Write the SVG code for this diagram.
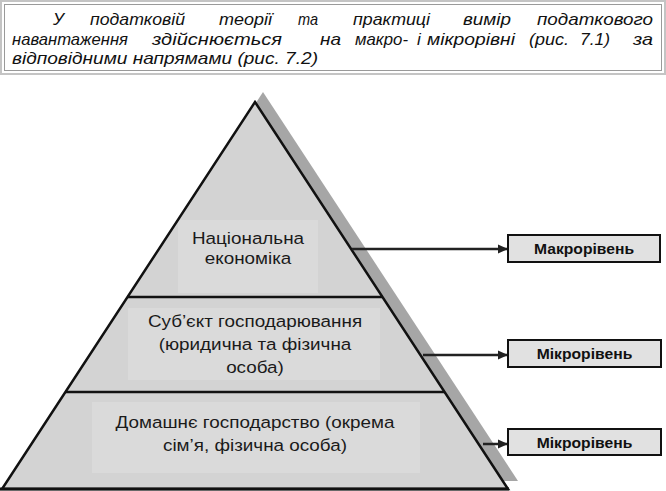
<svg xmlns="http://www.w3.org/2000/svg" width="666" height="491" viewBox="0 0 666 491">
  <defs>
    <style>
      .hdr { font-family: "Liberation Sans", Arial, sans-serif; font-size: 17px; font-style: italic; fill: #111; }
      .lbl { font-family: "Liberation Sans", Arial, sans-serif; font-size: 17px; fill: #1a1a1a; text-anchor: middle; }
      .lvl { font-family: "Liberation Sans", Arial, sans-serif; font-size: 14px; font-weight: bold; fill: #111; text-anchor: middle; }
      .tier-line { stroke: #111; stroke-width: 2.5; fill: none; }
      .lblbg { fill: #dadada; }
      .box { fill: #e1e1e1; stroke: #111; stroke-width: 2; }
      .conn { stroke: #222; stroke-width: 2.5; fill: none; }
    </style>
    <marker id="arr" markerUnits="userSpaceOnUse" markerWidth="11" markerHeight="10" refX="10" refY="5" orient="auto">
      <path d="M0,0.5 L10,5 L0,9.5 Z" fill="#222"/>
    </marker>
  </defs>

  <rect width="666" height="491" fill="#ffffff"/>

  <!-- header -->
  <g id="header">
    <rect x="1" y="1" width="664" height="73" fill="none" stroke="#c4c4c4" stroke-width="2"/>
    <rect x="4.5" y="4.5" width="657" height="66" fill="#ffffff" stroke="#9a9a9a" stroke-width="1"/>
    <text class="hdr" y="25">
      <tspan x="53">У</tspan><tspan x="90" textLength="95" lengthAdjust="spacingAndGlyphs">податковій</tspan><tspan x="219" textLength="53" lengthAdjust="spacingAndGlyphs">теорії</tspan><tspan x="298" textLength="20" lengthAdjust="spacingAndGlyphs">та</tspan><tspan x="353" textLength="77" lengthAdjust="spacingAndGlyphs">практиці</tspan><tspan x="463" textLength="48" lengthAdjust="spacingAndGlyphs">вимір</tspan><tspan x="537" textLength="116" lengthAdjust="spacingAndGlyphs">податкового</tspan>
    </text>
    <text class="hdr" y="45">
      <tspan x="12" textLength="116" lengthAdjust="spacingAndGlyphs">навантаження</tspan><tspan x="152" textLength="130" lengthAdjust="spacingAndGlyphs">здійснюється</tspan><tspan x="320" textLength="21" lengthAdjust="spacingAndGlyphs">на</tspan><tspan x="355" textLength="53" lengthAdjust="spacingAndGlyphs">макро-</tspan><tspan x="417">і</tspan><tspan x="427" textLength="88" lengthAdjust="spacingAndGlyphs">мікрорівні</tspan><tspan x="529" textLength="40" lengthAdjust="spacingAndGlyphs">(рис.</tspan><tspan x="580" textLength="30" lengthAdjust="spacingAndGlyphs">7.1)</tspan><tspan x="633" textLength="20" lengthAdjust="spacingAndGlyphs">за</tspan>
    </text>
    <text class="hdr" y="64" x="12" textLength="306" lengthAdjust="spacingAndGlyphs">відповідними напрямами (рис. 7.2)</text>
  </g>

  <!-- pyramid -->
  <g id="pyramid">
    <polygon id="shadow" points="263,92 518,481 10,481" fill="#a6a6a6"/>
    <polygon points="255,102 508,489 2,489" fill="#d3d3d3"/>
  </g>

  <g id="tier-national">
    <rect class="lblbg" x="178" y="220" width="140" height="73"/>
    <text class="lbl" transform="translate(248 0) scale(1.11 1)"><tspan x="0" y="244">Національна</tspan><tspan x="0" y="264">економіка</tspan></text>
  </g>

  <g id="tier-entity">
    <rect class="lblbg" x="128" y="308" width="252" height="72"/>
    <text class="lbl" transform="translate(255 0) scale(1.11 1)"><tspan x="0" y="327">Суб’єкт господарювання</tspan><tspan x="0" y="350">(юридична та фізична</tspan><tspan x="0" y="373">особа)</tspan></text>
  </g>

  <g id="tier-household">
    <rect class="lblbg" x="92" y="402" width="328" height="71"/>
    <text class="lbl" transform="translate(255 0) scale(1.11 1)"><tspan x="0" y="428">Домашнє господарство (окрема</tspan><tspan x="0" y="451">сім’я, фізична особа)</tspan></text>
  </g>

  <g id="pyramid-outline">
    <polygon points="255,102 508,489 2,489" fill="none" stroke="#111" stroke-width="2.5" stroke-linejoin="miter"/>
    <line class="tier-line" x1="127" y1="297" x2="383" y2="297"/>
    <line class="tier-line" x1="65" y1="392" x2="445" y2="392"/>
    <line x1="0" y1="489" x2="509" y2="489" stroke="#111" stroke-width="3"/>
  </g>

  <!-- connectors -->
  <g id="connectors">
    <line class="conn" x1="352" y1="249" x2="508" y2="249" marker-end="url(#arr)"/>
    <line class="conn" x1="423" y1="355" x2="508" y2="355" marker-end="url(#arr)"/>
    <line class="conn" x1="483" y1="444" x2="508" y2="444" marker-end="url(#arr)"/>
  </g>

  <!-- level boxes -->
  <g id="box-macro">
    <rect class="box" x="508" y="235" width="152" height="27"/>
    <text class="lvl" transform="translate(584 0) scale(1.12 1)" x="0" y="254">Макрорівень</text>
  </g>
  <g id="box-micro-1">
    <rect class="box" x="508" y="340" width="153" height="27"/>
    <text class="lvl" transform="translate(584.5 0) scale(1.12 1)" x="0" y="359">Мікрорівень</text>
  </g>
  <g id="box-micro-2">
    <rect class="box" x="508" y="429" width="153" height="26"/>
    <text class="lvl" transform="translate(584.5 0) scale(1.12 1)" x="0" y="448">Мікрорівень</text>
  </g>
</svg>
